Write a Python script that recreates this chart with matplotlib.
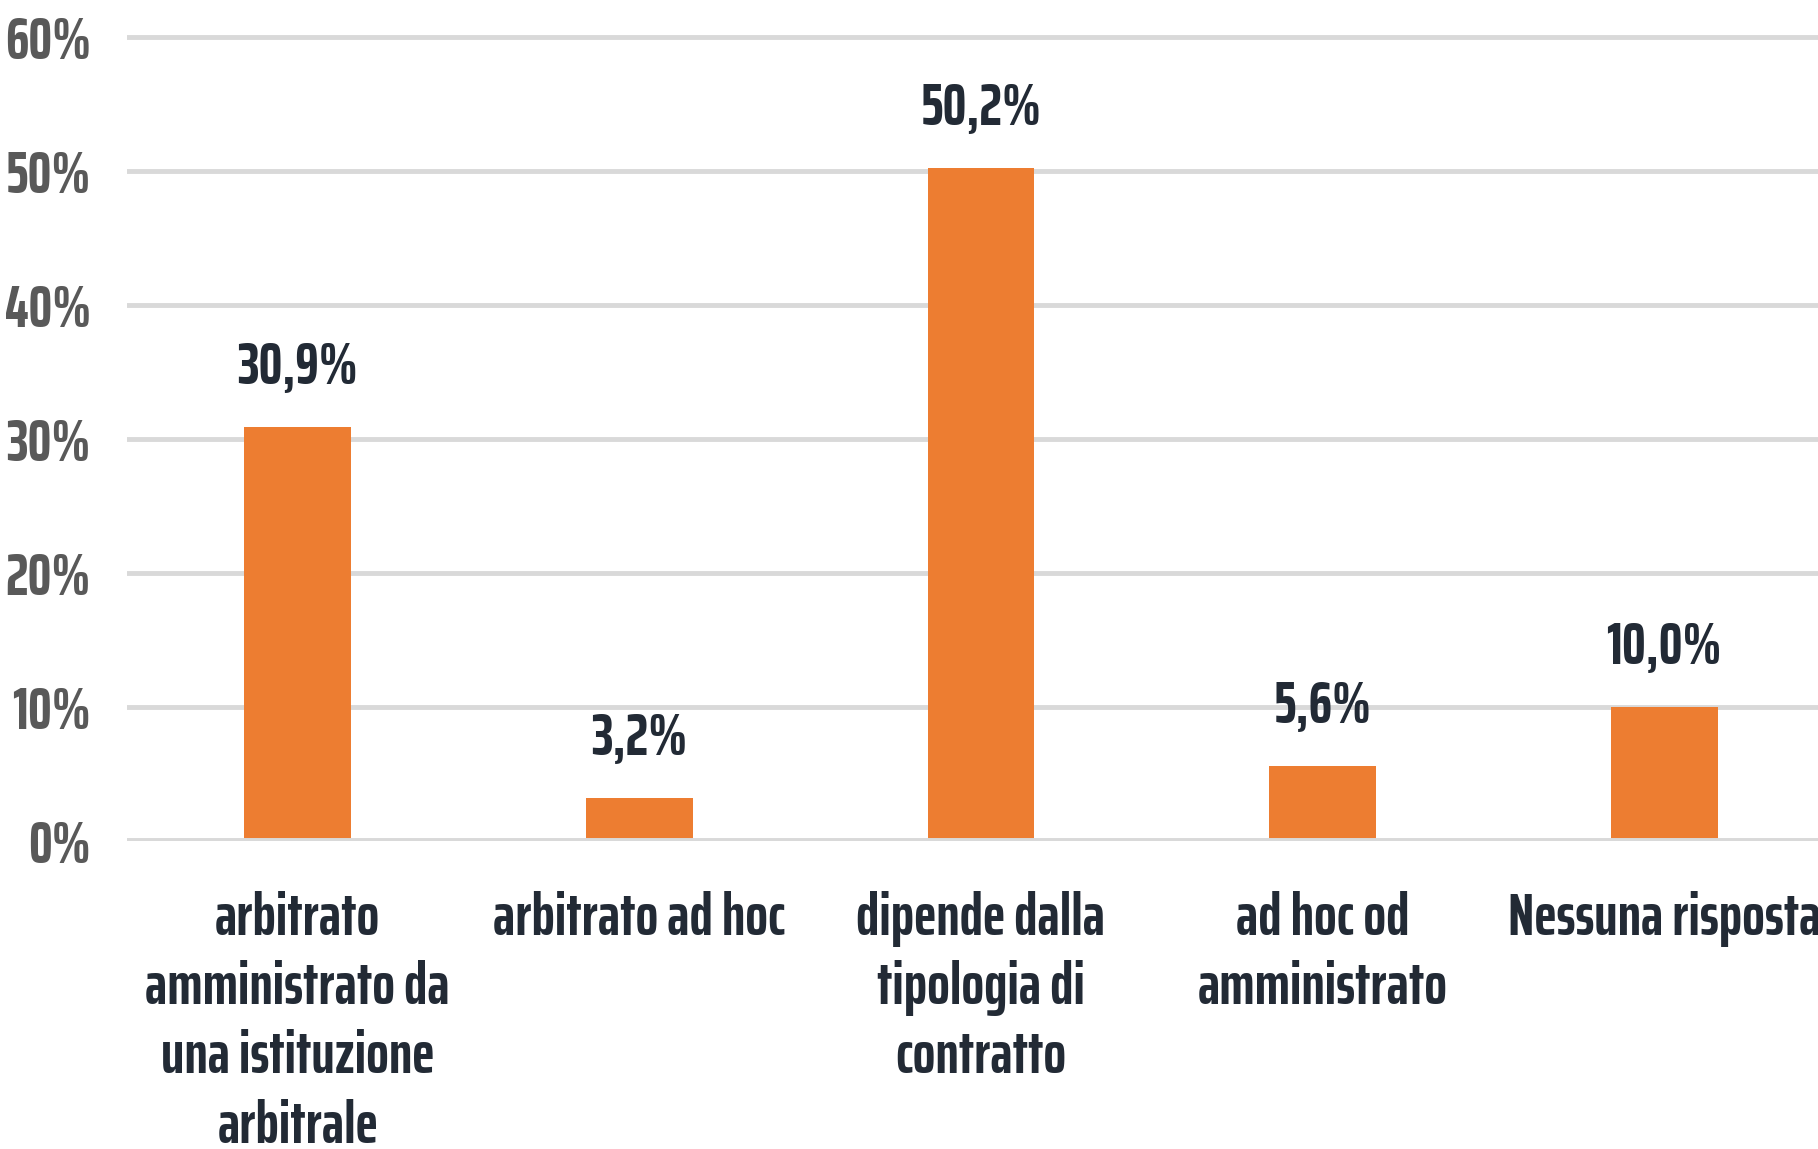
import matplotlib
matplotlib.use("Agg")
import matplotlib.pyplot as plt
from matplotlib.ticker import FuncFormatter

categories = [
    "arbitrato\namministrato da\nuna istituzione\narbitrale",
    "arbitrato ad hoc",
    "dipende dalla\ntipologia di\ncontratto",
    "ad hoc od\namministrato",
    "Nessuna risposta",
]
values = [0.309, 0.032, 0.502, 0.056, 0.100]
value_labels = ["30,9%", "3,2%", "50,2%", "5,6%", "10,0%"]
yticks = [0.0, 0.1, 0.2, 0.3, 0.4, 0.5, 0.6]

W, H = 1818, 1149
DPI = 100
fam = ["Saira ExtraCondensed", "DejaVu Sans"]
bar_color = "#ED7D31"
grid_color = "#D9D9D9"
text_dark = "#222A35"
tick_grey = "#595959"
FS = 43

fig = plt.figure(figsize=(W / DPI, H / DPI), dpi=DPI)
fig.patch.set_facecolor("white")

# axes geometry in pixels
left_px = 127
step_px = 341.6
zero_px = 841           # from top
unit_px = 1340          # pixels per 1.0 on the y axis
ytop = 0.62
ax_w = 5 * step_px
ax_h = ytop * unit_px
ax = fig.add_axes([left_px / W, (H - zero_px) / H, ax_w / W, ax_h / H])

x = list(range(len(categories)))
ax.bar(x, values, width=0.313, color=bar_color, zorder=3)
ax.set_xlim(-0.5, 4.5)
ax.set_ylim(0, ytop)

for xi, v, lab in zip(x, values, value_labels):
    ax.annotate(lab, (xi, v), xytext=(0, 31), textcoords="offset points",
                ha="center", va="baseline", fontsize=FS, fontweight="bold",
                color=text_dark, family=fam)

ax.set_yticks(yticks)
ax.yaxis.set_major_formatter(FuncFormatter(lambda v, p: f"{v*100:.0f}%"))
for t in ax.get_yticklabels():
    t.set_family(fam)
    t.set_fontweight("bold")
    t.set_fontsize(FS)
    t.set_color(tick_grey)
ax.tick_params(axis="y", length=0, pad=26)

ax.set_xticks(x)
ax.set_xticklabels(categories, family=fam, fontweight="bold", fontsize=FS,
                   color=text_dark, linespacing=1.3)
ax.tick_params(axis="x", length=0, pad=36)

ax.yaxis.grid(True, color=grid_color, linewidth=3.5, zorder=0)
ax.set_axisbelow(True)
for s in ax.spines.values():
    s.set_visible(False)
ax.axhline(0, color=grid_color, linewidth=5, zorder=4)

fig.savefig("out.png", dpi=DPI)
